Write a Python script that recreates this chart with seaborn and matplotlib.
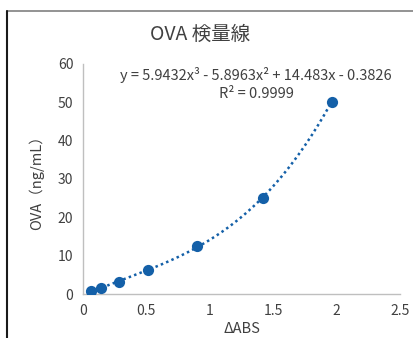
# OVA calibration curve
import numpy as np
import pandas as pd
import seaborn as sns
import matplotlib.pyplot as plt
from matplotlib.lines import Line2D

# data
abs_values = [0.065, 0.14, 0.28, 0.515, 0.90, 1.42, 1.96]
ova_conc = [0.78, 1.56, 3.125, 6.25, 12.5, 25.0, 50.0]
fit_coefs = [5.9432, -5.8963, 14.483, -0.3826]   # cubic trendline, highest power first
x_ticks = [0, 0.5, 1, 1.5, 2, 2.5]
y_ticks = [0, 10, 20, 30, 40, 50, 60]

df = pd.DataFrame({"abs": abs_values, "ova": ova_conc})

sns.set_theme(style="white")
plt.rcParams['font.family'] = ['Noto Sans CJK JP', 'DejaVu Sans']

blue = "#1460A8"
grey_txt = "#404040"

fig = plt.figure(figsize=(4.14, 3.38), dpi=100)
ax = fig.add_axes([0.2005, 0.130, 0.766, 0.681])

# dotted polynomial trendline over the data range
xs = np.linspace(min(abs_values), max(abs_values), 200)
ax.plot(xs, np.polyval(fit_coefs, xs), color=blue, lw=1.8, ls=(0, (1, 1.3)), zorder=2)

sns.scatterplot(data=df, x="abs", y="ova", ax=ax, color=blue, s=65,
                edgecolor=blue, linewidth=0, zorder=3)

ax.set_xlim(0, 2.5)
ax.set_ylim(0, 60)
ax.set_xticks(x_ticks)
ax.set_xticklabels(["0", "0.5", "1", "1.5", "2", "2.5"])
ax.set_yticks(y_ticks)
ax.tick_params(axis="both", length=0, labelsize=10, colors=grey_txt, pad=7)

for side in ["top", "right"]:
    ax.spines[side].set_visible(False)
for side in ["left", "bottom"]:
    ax.spines[side].set_color("#BFBFBF")
    ax.spines[side].set_linewidth(1.0)

ax.set_xlabel("ΔABS", fontsize=10.5, color=grey_txt, labelpad=3)
ax.set_ylabel("OVA（ng/mL）", fontsize=10.5, color=grey_txt, labelpad=10)

fig.text(0.483, 0.897, "OVA 検量線", ha="center", va="center", fontsize=14, color=grey_txt)

ax.text(0.546, 0.985, "y = 5.9432x³ - 5.8963x² + 14.483x - 0.3826\nR² = 0.9999",
        transform=ax.transAxes, ha="center", va="top", fontsize=10.5,
        color=grey_txt, linespacing=1.3)

# border of the pasted chart
fig.add_artist(Line2D([0.017, 1.0], [0.966, 0.966], transform=fig.transFigure, color="#808080", lw=1.2))
fig.add_artist(Line2D([0.017, 0.017], [0.0, 0.966], transform=fig.transFigure, color="#1a1a1a", lw=1.5))

fig.savefig("out.png", dpi=100)
